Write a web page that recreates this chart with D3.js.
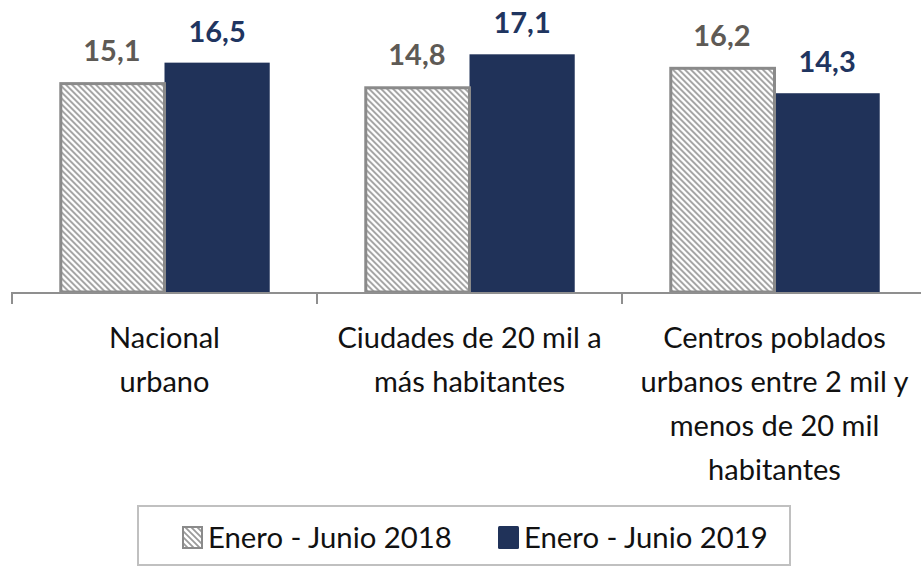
<!DOCTYPE html>
<html>
<head>
<meta charset="utf-8">
<script src="https://cdn.jsdelivr.net/npm/d3@7"></script>
<style>
  html, body { margin: 0; padding: 0; background: #fff; }
  svg { display: block; font-family: Lato, "Open Sans", sans-serif; }
</style>
</head>
<body>
<svg id="chart" width="921" height="568"></svg>
<script>
const categories = [
  ["Nacional", "urbano"],
  ["Ciudades de 20 mil a", "más habitantes"],
  ["Centros poblados", "urbanos entre 2 mil y", "menos de 20 mil", "habitantes"]
];
const seriesNames = ["Enero - Junio 2018", "Enero - Junio 2019"];
const values2018 = [15.1, 14.8, 16.2];
const values2019 = [16.5, 17.1, 14.3];
const valueLabels2018 = ["15,1", "14,8", "16,2"];
const valueLabels2019 = ["16,5", "17,1", "14,3"];

const svg = d3.select("#chart");
const defs = svg.append("defs");
const pat = defs.append("pattern")
  .attr("id", "hatch").attr("patternUnits", "userSpaceOnUse")
  .attr("width", 6).attr("height", 6);
pat.append("rect").attr("width", 6).attr("height", 6).attr("fill", "#fff");
pat.append("path").attr("d", "M0,0 L6,6 M-1,5 L1,7 M5,-1 L7,1")
  .attr("stroke", "#9a9a9a").attr("stroke-width", 1.8);

const baseY = 292;
const idx = d3.range(categories.length);
const x = d3.scaleBand().domain(idx).range([12, 927]).paddingInner(0.31).paddingOuter(0.155);
const xs = d3.scaleBand().domain([0, 1]).range([0, x.bandwidth()]);
const y = d3.scaleLinear().domain([0, 20]).range([baseY, 14]);

const data = idx.map(i => ({i, v: [values2018[i], values2019[i]], l: [valueLabels2018[i], valueLabels2019[i]]}));

const g = svg.append("g");
const grp = g.selectAll("g.grp").data(data).join("g").attr("transform", d => `translate(${x(d.i)},0)`);

// 2019 dark bars
grp.append("rect")
  .attr("x", xs(1)).attr("width", xs.bandwidth())
  .attr("y", d => y(d.v[1])).attr("height", d => y(0) - y(d.v[1]))
  .attr("fill", "#203259");
// 2018 hatched bars
grp.append("rect")
  .attr("x", xs(0) + 1.5).attr("width", xs.bandwidth() - 1.5)
  .attr("y", d => y(d.v[0]) + 1.5).attr("height", d => y(0) - y(d.v[0]) - 1.5)
  .attr("fill", "url(#hatch)").attr("stroke", "#8a8a8a").attr("stroke-width", 3);

// value labels
grp.append("text")
  .attr("x", xs(0) + xs.bandwidth() / 2).attr("y", d => y(d.v[0]) - 21)
  .attr("text-anchor", "middle").attr("font-weight", "bold").attr("font-size", 29)
  .attr("fill", "#5e5a55").text(d => d.l[0]);
grp.append("text")
  .attr("x", xs(1) + xs.bandwidth() / 2).attr("y", d => y(d.v[1]) - 21)
  .attr("text-anchor", "middle").attr("font-weight", "bold").attr("font-size", 29)
  .attr("fill", "#1f3560").text(d => d.l[1]);

// axis
const step = x.step();
const bounds = idx.map(i => x(i) - step * x.paddingInner() / 2);
g.append("line").attr("x1", bounds[0]).attr("x2", 921).attr("y1", baseY + 1).attr("y2", baseY + 1)
  .attr("stroke", "#8f8f8f").attr("stroke-width", 2);
g.selectAll("line.tick").data(bounds).join("line").attr("class", "tick")
  .attr("x1", d => d).attr("x2", d => d).attr("y1", baseY).attr("y2", baseY + 12)
  .attr("stroke", "#8f8f8f").attr("stroke-width", 2);

// category labels
grp.append("text")
  .attr("text-anchor", "middle").attr("font-size", 29).attr("fill", "#111")
  .each(function(d) {
    const t = d3.select(this);
    categories[d.i].forEach((line, k) => {
      t.append("tspan").attr("x", x.bandwidth() / 2).attr("y", 348 + k * 44).text(line);
    });
  });

// legend
const lg = svg.append("g");
lg.append("rect").attr("x", 138).attr("y", 506).attr("width", 652).attr("height", 59)
  .attr("fill", "#fff").attr("stroke", "#c0c0c0").attr("stroke-width", 2);
const legX = [182, 498];
const fills = ["url(#hatch)", "#203259"];
seriesNames.forEach((name, k) => {
  if (k === 0) {
    lg.append("rect").attr("x", legX[k] + 1).attr("y", 527).attr("width", 19).attr("height", 21)
      .attr("fill", fills[k]).attr("stroke", "#8a8a8a").attr("stroke-width", 2);
  } else {
    lg.append("rect").attr("x", legX[k]).attr("y", 526).attr("width", 21).attr("height", 23)
      .attr("rx", 1.5).attr("fill", fills[k]);
  }
  lg.append("text").attr("x", legX[k] + 26).attr("y", 548).attr("font-size", 29.3)
    .attr("fill", "#111").text(name);
});
</script>
</body>
</html>
